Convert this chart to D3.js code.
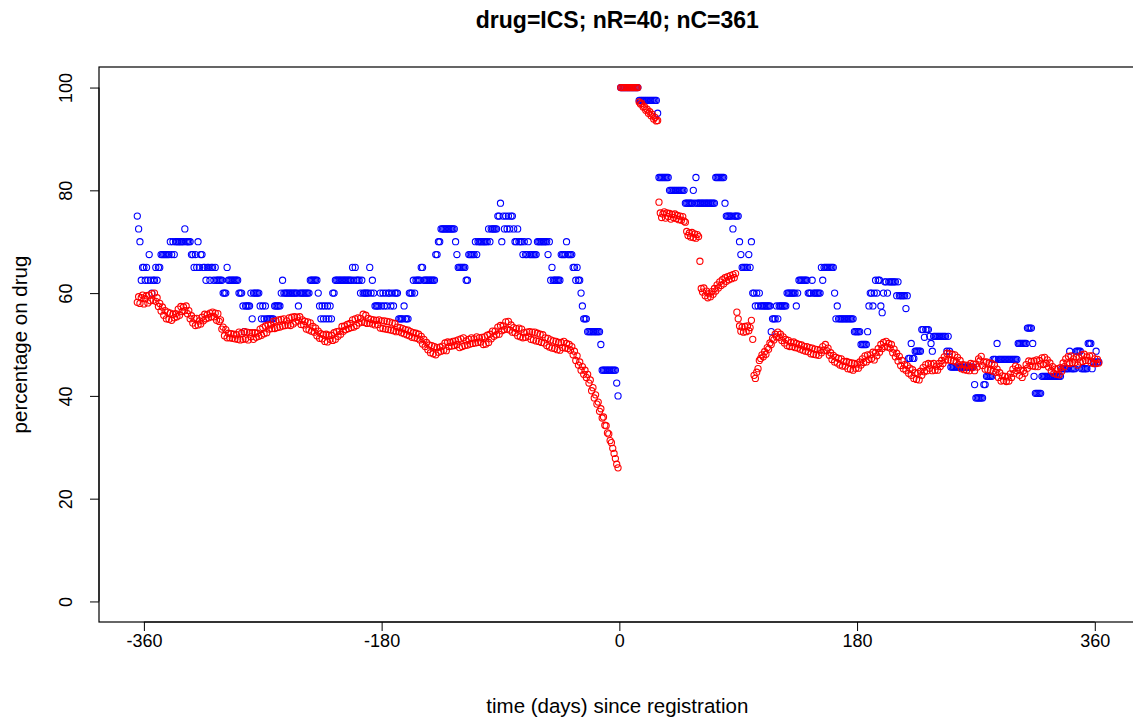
<!DOCTYPE html>
<html><head><meta charset="utf-8">
<script src="https://cdn.jsdelivr.net/npm/d3@7"></script>
<style>body{margin:0;background:#fff}svg{display:block}</style>
</head><body>
<script>
// ---- data ----
const titleText = "drug=ICS; nR=40; nC=361";
const xLabel = "time (days) since registration";
const yLabel = "percentage on drug";
const xTicks = [-360, -180, 0, 180, 360];
const xTickLabels = ["-360", "-180", "0", "180", "360"];
const yTicks = [0, 20, 40, 60, 80, 100];
const yTickLabels = ["0", "20", "40", "60", "80", "100"];

// days before registration (-365..-1) and after (1..363)
const daysBefore = d3.range(-365, 0);
const daysAfter = d3.range(1, 364);

// blue series (nR) - days -365..-1
const blueBefore = [
75,72.5,70,62.5,65,65,62.5,65,62.5,67.5,
62.5,60,62.5,62.5,65,62.5,65,65,67.5,67.5,
67.5,67.5,67.5,67.5,67.5,70,67.5,70,67.5,70,
70,70,70,70,70,70,72.5,70,70,70,
70,67.5,67.5,65,67.5,65,70,65,67.5,67.5,
65,65,62.5,65,65,62.5,65,65,62.5,65,
62.5,62.5,62.5,62.5,62.5,60,60,60,65,62.5,
62.5,62.5,62.5,62.5,62.5,62.5,62.5,60,60,60,
57.5,52.5,57.5,57.5,57.5,57.5,60,55,60,60,
60,60,60,57.5,55,57.5,55,57.5,55,55,
55,55,55,55,57.5,57.5,57.5,57.5,57.5,60,
62.5,60,60,60,60,60,60,60,60,60,
60,60,57.5,60,60,60,60,60,60,60,
60,62.5,62.5,62.5,62.5,62.5,62.5,60,57.5,55,
57.5,55,57.5,55,57.5,55,57.5,55,60,60,
62.5,62.5,62.5,62.5,62.5,62.5,62.5,62.5,62.5,62.5,
62.5,62.5,62.5,65,62.5,65,62.5,62.5,62.5,60,
62.5,60,60,60,60,60,65,60,62.5,60,
57.5,57.5,57.5,57.5,60,57.5,60,57.5,60,57.5,
60,60,57.5,60,57.5,60,60,60,55,55,
55,55,57.5,55,55,55,60,60,60,62.5,
60,62.5,62.5,62.5,62.5,65,65,62.5,62.5,62.5,
62.5,62.5,62.5,62.5,62.5,62.5,67.5,67.5,70,70,
72.5,72.5,72.5,72.5,72.5,72.5,72.5,72.5,72.5,72.5,
72.5,70,67.5,65,65,65,65,65,65,62.5,
62.5,67.5,67.5,67.5,67.5,67.5,70,67.5,70,70,
70,70,70,70,70,70,72.5,70,72.5,72.5,
72.5,72.5,72.5,75,75,77.5,70,75,72.5,75,
72.5,75,72.5,75,75,72.5,70,70,72.5,70,
70,70,67.5,70,67.5,67.5,70,67.5,67.5,67.5,
67.5,67.5,67.5,70,70,70,70,70,70,70,
70,67.5,70,62.5,65,62.5,62.5,62.5,62.5,62.5,
62.5,67.5,67.5,67.5,67.5,70,67.5,67.5,67.5,67.5,
65,65,62.5,65,62.5,62.5,60,57.5,55,55,
55,52.5,52.5,52.5,52.5,52.5,52.5,52.5,52.5,52.5,
52.5,50,45,45,45,45,45,45,45,45,
45,45,45,42.5,40
];

// red series (nC) - days -365..-1
const redBefore = [
58.2,59.3,58.0,59.1,59.6,57.9,58.9,59.5,58.1,59.6,
58.5,59.9,58.6,60.0,58.4,59.1,57.4,58.0,56.5,57.3,
55.7,56.6,55.0,56.3,54.9,56.1,54.7,55.9,55.2,56.0,
55.4,56.9,55.7,57.4,56.4,57.3,56.6,57.5,56.0,56.6,
55.0,55.6,54.2,55.1,53.7,55.1,53.8,54.6,54.0,55.3,
54.6,55.9,55.0,55.8,55.2,56.1,55.4,56.3,55.4,56.1,
54.7,56.0,54.5,54.8,53.0,53.4,51.7,52.9,51.3,52.2,
51.3,52.1,51.2,52.0,51.1,51.9,51.0,52.4,50.9,52.2,
51.0,52.5,51.1,52.4,50.9,52.3,51.5,52.3,51.0,52.3,
51.4,52.2,51.6,53.0,51.8,53.3,52.1,53.6,52.3,53.8,
53.0,53.8,53.1,54.5,53.1,54.6,53.3,54.8,53.4,54.9,
53.6,55.0,53.7,54.6,53.8,55.2,53.7,55.3,54.0,55.4,
54.4,55.3,54.6,55.4,53.9,54.8,53.8,54.5,53.0,54.4,
52.8,54.2,52.6,53.5,52.4,53.2,51.7,52.6,51.2,52.1,
51.1,51.9,50.6,52.0,50.5,51.8,51.0,51.8,50.8,52.3,
51.0,52.5,51.6,52.6,52.0,53.5,52.6,53.6,52.9,53.9,
53.1,54.1,53.3,54.8,53.4,55.0,53.7,55.2,54.2,55.1,
54.4,55.9,54.3,55.7,54.1,55.1,54.2,54.9,54.0,54.8,
53.8,54.7,53.9,54.8,53.2,54.6,53.1,54.6,53.0,54.5,
52.9,54.4,52.8,54.2,52.7,54.1,52.5,53.4,52.6,53.3,
52.3,53.1,52.1,52.9,51.9,52.8,51.7,52.5,51.4,52.3,
51.3,52.2,51.2,52.0,50.9,51.6,50.1,51.0,49.6,50.4,
49.0,49.9,48.4,49.8,48.2,49.6,48.0,49.4,48.5,49.5,
48.7,49.7,48.9,50.3,48.8,50.5,49.6,50.4,49.7,50.6,
49.8,50.7,50.0,50.9,49.4,51.1,49.6,51.3,49.8,50.7,
49.9,51.0,50.1,51.3,50.2,51.1,50.3,51.5,50.4,51.3,
50.5,51.4,50.0,51.5,50.1,51.8,50.4,52.0,51.1,52.6,
51.6,52.6,51.9,53.4,52.0,53.7,52.7,53.6,52.9,54.4,
53.0,54.5,52.8,53.8,52.4,53.3,52.3,53.1,51.7,53.2,
51.5,53.0,51.3,52.3,51.4,52.4,51.6,52.5,51.0,52.4,
50.9,52.4,50.7,52.2,50.6,52.0,50.4,51.9,50.3,51.3,
49.8,51.2,49.5,50.9,49.3,50.7,49.2,50.6,49.0,50.4,
48.9,50.4,49.4,50.6,49.3,50.2,49.2,50.0,48.9,49.6,
48.0,48.7,46.9,47.8,46.0,46.6,45.0,45.7,44.2,45.0,
43.6,44.2,42.5,43.1,41.0,41.6,39.6,40.2,38.4,38.8,
37.0,37.5,35.7,35.9,34.3,34.2,32.8,32.6,31.3,30.9,
29.8,28.8,27.8,26.7,26.0
];

// blue series (nR) - days 1..363
const blueAfter = [
100,100,100,100,100,100,100,100,100,100,
100,100,100,100,97.5,97.5,97.5,97.5,97.5,97.5,
97.5,97.5,97.5,97.5,97.5,97.5,97.5,97.5,95,82.5,
82.5,82.5,82.5,82.5,82.5,82.5,82.5,80,80,80,
80,80,80,80,80,80,80,80,80,77.5,
77.5,77.5,77.5,77.5,77.5,80,77.5,82.5,77.5,77.5,
77.5,77.5,77.5,77.5,77.5,77.5,77.5,77.5,77.5,77.5,
77.5,77.5,82.5,82.5,82.5,82.5,82.5,82.5,82.5,77.5,
75,75,75,75,75,72.5,75,75,75,75,
70,67.5,65,65,65,65,65,67.5,65,70,
60,60,57.5,60,57.5,60,57.5,57.5,57.5,57.5,
57.5,57.5,57.5,57.5,52.5,55,55,55,57.5,55,
57.5,57.5,57.5,57.5,57.5,57.5,60,60,60,60,
60,60,60,57.5,60,62.5,62.5,62.5,62.5,62.5,
62.5,62.5,60,60,60,62.5,60,60,60,60,
60,60,65,62.5,65,65,65,65,65,65,
65,65,60,55,57.5,55,55,55,55,55,
55,55,55,55,55,55,55,52.5,52.5,52.5,
52.5,52.5,50,50,50,50,50,52.5,57.5,60,
60,57.5,60,62.5,60,62.5,62.5,57.5,56.2,60,
62.2,62.2,60,62.2,62.2,62.2,62.2,62.2,62.2,59.5,
62.2,59.5,59.5,59.5,59.5,59.5,57,59.5,47.3,47.3,
50.2,47.3,47.3,48.7,48.7,48.7,48.7,48.7,52.9,52.9,
51.4,52.9,52.9,52.9,51.6,50.2,48.7,51.6,51.6,51.6,
51.6,51.6,51.6,51.6,51.6,51.6,51.6,48.7,51.6,48.7,
45.6,45.6,45.6,45.6,45.6,45.6,45.6,45.6,45.6,45.6,
45.6,45.6,45.6,45.6,45.6,45.6,45.6,45.6,42.2,39.6,
39.6,39.6,39.6,39.6,39.6,42.2,42.2,43.8,43.8,43.8,
43.8,43.8,47.1,47.1,47.1,50.2,47.1,47.1,47.1,47.1,
47.1,47.1,47.1,47.1,47.1,47.1,47.1,47.1,47.1,47.1,
47.1,50.2,50.2,50.2,50.2,50.2,50.2,50.2,53.2,53.2,
53.2,53.2,50.2,43.8,40.5,40.5,40.5,40.5,40.5,43.8,
43.8,43.8,43.8,43.8,43.8,43.8,43.8,43.8,43.8,43.8,
43.8,43.8,43.8,43.8,45.3,45.3,45.3,45.3,45.3,45.3,
48.7,45.3,45.3,45.3,45.3,48.7,48.7,48.7,48.7,45.3,
45.3,45.3,45.3,45.3,50.2,50.2,50.2,45.3,46.6,46.6,
48.7,46.6,46.6
];

// red series (nC) - days 1..363
const redAfter = [
100,100,100,100,100,100,100,100,100,100,
100,100,100,100,97.2,96.8,96.9,96.2,96.3,95.6,
95.8,95.0,95.3,94.5,94.8,93.9,94.2,93.5,93.6,77.7,
75.6,74.7,75.4,75.8,74.6,75.6,74.9,75.5,74.4,75.3,
74.7,75.4,74.5,75.1,74.3,75.0,74.2,74.9,74.0,73.8,
72.0,71.2,71.7,70.9,71.8,70.8,71.5,70.7,71.4,71.0,
66.2,60.9,60.2,61.0,59.5,60.4,59.1,59.9,59.3,60.3,
59.8,60.9,60.4,61.6,61.0,62.2,61.5,62.6,61.8,63.0,
62.3,63.2,62.6,63.4,62.8,63.6,63.0,63.8,56.3,55.0,
53.6,52.6,53.4,52.4,53.5,52.5,53.6,52.7,53.3,54.7,
51.0,44.0,43.4,44.6,45.3,46.9,47.3,48.0,47.6,48.6,
48.1,49.4,49.1,50.3,50.0,51.2,50.9,52.0,51.5,52.4,
51.4,52.0,50.8,51.5,50.3,51.0,49.8,50.8,49.6,50.4,
49.6,50.5,49.4,50.2,49.3,50.0,49.1,49.9,48.9,49.6,
48.7,49.6,48.6,49.4,48.2,49.3,48.1,49.1,48.0,49.0,
47.9,48.9,48.4,49.6,48.9,50.0,48.8,49.3,47.9,48.4,
47.1,47.9,46.6,47.5,46.4,47.3,46.0,47.2,45.8,46.7,
45.8,46.7,45.3,46.5,45.2,46.4,45.0,46.3,45.4,46.2,
45.4,46.6,46.0,47.2,46.5,47.8,46.6,48.0,47.1,48.0,
47.3,48.5,47.0,48.4,47.8,49.2,48.5,50.0,49.2,50.4,
49.6,50.6,49.5,50.2,49.3,50.0,48.4,49.1,47.6,48.3,
46.8,47.7,45.9,46.9,45.3,46.1,45.0,45.9,44.4,45.4,
44.0,45.1,43.4,44.5,43.2,44.4,43.1,44.8,44.0,45.5,
44.7,46.1,44.9,46.3,45.4,46.2,44.9,46.3,45.0,45.8,
45.0,46.3,45.7,46.9,46.3,47.6,47.0,48.3,47.0,48.2,
46.9,48.1,46.8,48.0,46.6,47.5,46.1,46.9,45.3,46.1,
45.1,46.0,45.0,45.9,44.9,46.3,45.5,46.2,44.9,46.2,
45.6,47.2,46.8,47.7,45.9,46.6,45.2,46.6,45.1,46.4,
45.0,46.3,44.8,46.0,44.6,45.2,43.6,44.5,42.9,43.9,
43.0,43.8,42.8,43.7,42.9,44.3,43.6,45.2,44.4,45.8,
44.9,45.5,44.0,45.0,43.6,44.9,44.4,46.1,45.4,46.8,
45.9,46.7,45.8,46.8,45.7,47.0,45.7,46.9,46.2,47.4,
46.1,47.5,46.3,47.0,45.6,46.4,44.9,45.7,44.4,45.2,
44.2,45.3,44.1,45.5,44.8,46.4,45.7,47.2,46.4,47.7,
46.3,47.8,46.5,47.2,46.5,47.6,46.0,47.4,46.6,48.0,
46.7,48.1,46.9,47.6,46.9,47.8,46.5,47.8,46.3,47.2,
46.3,47.1,46.4
];

// ---- chart ----
const W = 1133, H = 722;
const FONT = "'Liberation Sans', Arial, sans-serif";
const plot = {left: 99, right: 1139.7, top: 67, bottom: 622};

const x = d3.scaleLinear().domain([-394, 394]).range([plot.left, plot.right]);
const y = d3.scaleLinear().domain([-4, 104]).range([plot.bottom, plot.top]);

const svg = d3.select("body").append("svg")
  .attr("width", W).attr("height", H)
  .style("font-family", FONT);

svg.append("rect").attr("width", W).attr("height", H).attr("fill", "#fff");

function series(days, vals) {
  const n = Math.min(days.length, vals.length);
  return d3.range(n).map(i => ({d: days[i], v: vals[i]}));
}
const blue = series(daysBefore, blueBefore).concat(series(daysAfter, blueAfter));
const red = series(daysBefore, redBefore).concat(series(daysAfter, redAfter));

const gPts = svg.append("g");
gPts.selectAll("circle.b").data(blue).join("circle").attr("class", "b")
  .attr("cx", p => x(p.d)).attr("cy", p => y(p.v)).attr("r", 3.1)
  .attr("fill", "none").attr("stroke", "#0000ff").attr("stroke-width", 1.1);
gPts.selectAll("circle.r").data(red).join("circle").attr("class", "r")
  .attr("cx", p => x(p.d)).attr("cy", p => y(p.v)).attr("r", 3.1)
  .attr("fill", "none").attr("stroke", "#ff0000").attr("stroke-width", 1.1);

// box
svg.append("rect")
  .attr("x", plot.left).attr("y", plot.top)
  .attr("width", plot.right - plot.left).attr("height", plot.bottom - plot.top)
  .attr("fill", "none").attr("stroke", "#000").attr("stroke-width", 1.2);

// x axis
const xa = svg.append("g").attr("transform", `translate(0,${plot.bottom})`)
  .call(d3.axisBottom(x).tickValues(xTicks).tickFormat((d, i) => xTickLabels[i]).tickSize(9).tickPadding(3));
xa.select(".domain").attr("d", `M${x(xTicks[0])},0H${x(xTicks[xTicks.length-1])}`);
xa.selectAll("text").style("font-size", "18px").style("font-family", FONT).attr("fill", "#000");
xa.selectAll("line").attr("stroke", "#000");

// y axis
const ya = svg.append("g").attr("transform", `translate(${plot.left},0)`)
  .call(d3.axisLeft(y).tickValues(yTicks).tickFormat((d, i) => yTickLabels[i]).tickSize(9).tickPadding(0));
ya.select(".domain").attr("d", `M0,${y(0)}V${y(100)}`);
ya.selectAll("line").attr("stroke", "#000");
ya.selectAll("text").remove();
ya.selectAll(".tick").append("text")
  .attr("transform", "translate(-27,0) rotate(-90)")
  .attr("text-anchor", "middle").attr("dy", "0")
  .attr("fill", "#000")
  .style("font-size", "18px").style("font-family", FONT)
  .text((d, i) => yTickLabels[i]);

// labels
svg.append("text").attr("x", (plot.left + plot.right) / 2 - 2).attr("y", 28)
  .attr("text-anchor", "middle").style("font-size", "23px").style("font-weight", "bold")
  .text(titleText);
svg.append("text").attr("x", (plot.left + plot.right) / 2 - 2).attr("y", 713)
  .attr("text-anchor", "middle").style("font-size", "20.5px")
  .text(xLabel);
svg.append("text").attr("transform", `translate(27,${(plot.top + plot.bottom) / 2}) rotate(-90)`)
  .attr("text-anchor", "middle").style("font-size", "20.5px")
  .text(yLabel);
</script>
</body></html>
